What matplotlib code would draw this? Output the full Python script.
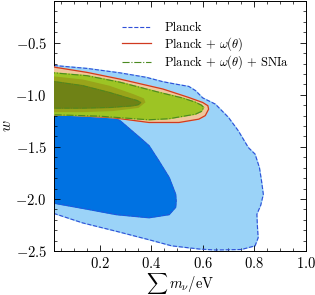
import numpy as np
import matplotlib
matplotlib.use('Agg')
import matplotlib.pyplot as plt
from matplotlib.ticker import MultipleLocator

plt.rcParams['font.family'] = 'serif'
plt.rcParams['font.serif'] = ['cmr10', 'DejaVu Serif']
plt.rcParams['mathtext.fontset'] = 'cm'
plt.rcParams['axes.formatter.use_mathtext'] = True

# contour outlines (sum m_nu, w)
planck_95_x = [0.0, 0.151, 0.28, 0.382, 0.446, 0.5, 0.546, 0.572, 0.6, 0.649, 0.70, 0.738, 0.777, 0.803,
               0.82, 0.828, 0.835, 0.825, 0.81, 0.812, 0.815, 0.803, 0.75, 0.65, 0.585, 0.48, 0.39, 0.265, 0.135, 0.0]
planck_95_y = [-0.714, -0.747, -0.79, -0.833, -0.875, -0.9, -0.92, -0.96, -1.03, -1.09, -1.218, -1.346, -1.507, -1.57,
               -1.7, -1.827, -1.955, -2.06, -2.147, -2.26, -2.372, -2.45, -2.485, -2.49, -2.48, -2.45, -2.39, -2.31, -2.23, -2.12]

planck_68_x = [0.0, 0.25, 0.28, 0.327, 0.36, 0.392, 0.43, 0.47, 0.495, 0.497, 0.495, 0.47, 0.392, 0.265, 0.135, 0.0]
planck_68_y = [-1.18, -1.2, -1.25, -1.35, -1.42, -1.49, -1.635, -1.795, -1.955, -2.02, -2.08, -2.15, -2.18, -2.15, -2.09, -2.03]

theta_95_x = [0.0, 0.151, 0.28, 0.446, 0.546, 0.6, 0.62, 0.623, 0.61, 0.585, 0.508, 0.392, 0.25, 0.12, 0.0]
theta_95_y = [-0.725, -0.785, -0.85, -0.945, -1.026, -1.074, -1.105, -1.138, -1.2, -1.234, -1.266, -1.266, -1.22, -1.2, -1.19]

theta_68_x = [0.0, 0.135, 0.238, 0.33, 0.37, 0.375, 0.35, 0.25, 0.135, 0.0]
theta_68_y = [-0.824, -0.86, -0.92, -1.0, -1.04, -1.07, -1.12, -1.15, -1.16, -1.16]

sn_95_x = [0.0, 0.151, 0.28, 0.433, 0.52, 0.57, 0.595, 0.604, 0.595, 0.572, 0.469, 0.39, 0.2, 0.0]
sn_95_y = [-0.785, -0.817, -0.88, -0.978, -1.03, -1.07, -1.1, -1.122, -1.16, -1.186, -1.23, -1.24, -1.205, -1.19]

sn_68_x = [0.0, 0.135, 0.238, 0.315, 0.345, 0.36, 0.35, 0.327, 0.238, 0.135, 0.0]
sn_68_y = [-0.865, -0.913, -0.978, -1.035, -1.055, -1.075, -1.095, -1.106, -1.122, -1.128, -1.128]

fig = plt.figure(figsize=(3.15, 2.95), dpi=100)
ax = fig.add_axes([0.171, 0.149, 0.8, 0.849])

ax.fill(planck_95_x, planck_95_y, color='#9bd3f8', zorder=1)
ax.plot(planck_95_x + planck_95_x[:1], planck_95_y + planck_95_y[:1], color='#2f4fd8', ls='--', lw=0.8, zorder=2)
ax.fill(planck_68_x, planck_68_y, color='#0072e2', zorder=1)
ax.plot(planck_68_x + planck_68_x[:1], planck_68_y + planck_68_y[:1], color='#2f4fd8', ls='--', lw=0.6, zorder=2)

ax.fill(theta_95_x, theta_95_y, color='#f0c69c', zorder=3)
ax.plot(theta_95_x + theta_95_x[:1], theta_95_y + theta_95_y[:1], color='#d03a20', lw=0.9, zorder=4)

ax.fill(sn_95_x, sn_95_y, color='#9dc424', zorder=5)
ax.plot(sn_95_x + sn_95_x[:1], sn_95_y + sn_95_y[:1], color='#4a8a20', ls='-.', lw=0.8, zorder=6)

ax.fill(theta_68_x, theta_68_y, color='#98a41a', zorder=7)
ax.fill(sn_68_x, sn_68_y, color='#6f8216', zorder=8)
ax.plot(sn_68_x + sn_68_x[:1], sn_68_y + sn_68_y[:1], color='#4a8a20', ls='-.', lw=0.6, zorder=9)

# legend handles
ax.plot([], [], color='#2f4fd8', ls='--', lw=0.8, label='Planck')
ax.plot([], [], color='#d03a20', lw=0.9, label=r'Planck$\,+\,\omega(\theta)$')
ax.plot([], [], color='#4a8a20', ls='-.', lw=0.8, label=r'Planck$\,+\,\omega(\theta)\,+\,$SNIa')
ax.legend(loc='upper left', bbox_to_anchor=(0.25, 0.935), frameon=False, fontsize=9,
          handlelength=2.3, labelspacing=0.08, handletextpad=1.1, borderaxespad=0)

ax.set_xlim(0.023, 1.0)
ax.set_ylim(-2.5, -0.096)
ax.xaxis.set_major_locator(MultipleLocator(0.2))
ax.xaxis.set_minor_locator(MultipleLocator(0.05))
ax.yaxis.set_major_locator(MultipleLocator(0.5))
ax.yaxis.set_minor_locator(MultipleLocator(0.1))
ax.tick_params(which='both', direction='in', top=True, right=True, labelsize=10.5)
ax.tick_params(which='major', length=4, width=0.6)
ax.tick_params(which='minor', length=2, width=0.5)
ax.tick_params(axis='y', which='major', pad=5)
for s in ax.spines.values():
    s.set_linewidth(0.7)

ax.set_xlabel(r'$\sum\, m_\nu/\mathrm{eV}$', fontsize=10.5, labelpad=0)
ax.set_ylabel(r'$w$', fontsize=11, labelpad=1)

fig.savefig('out.png', dpi=100)
